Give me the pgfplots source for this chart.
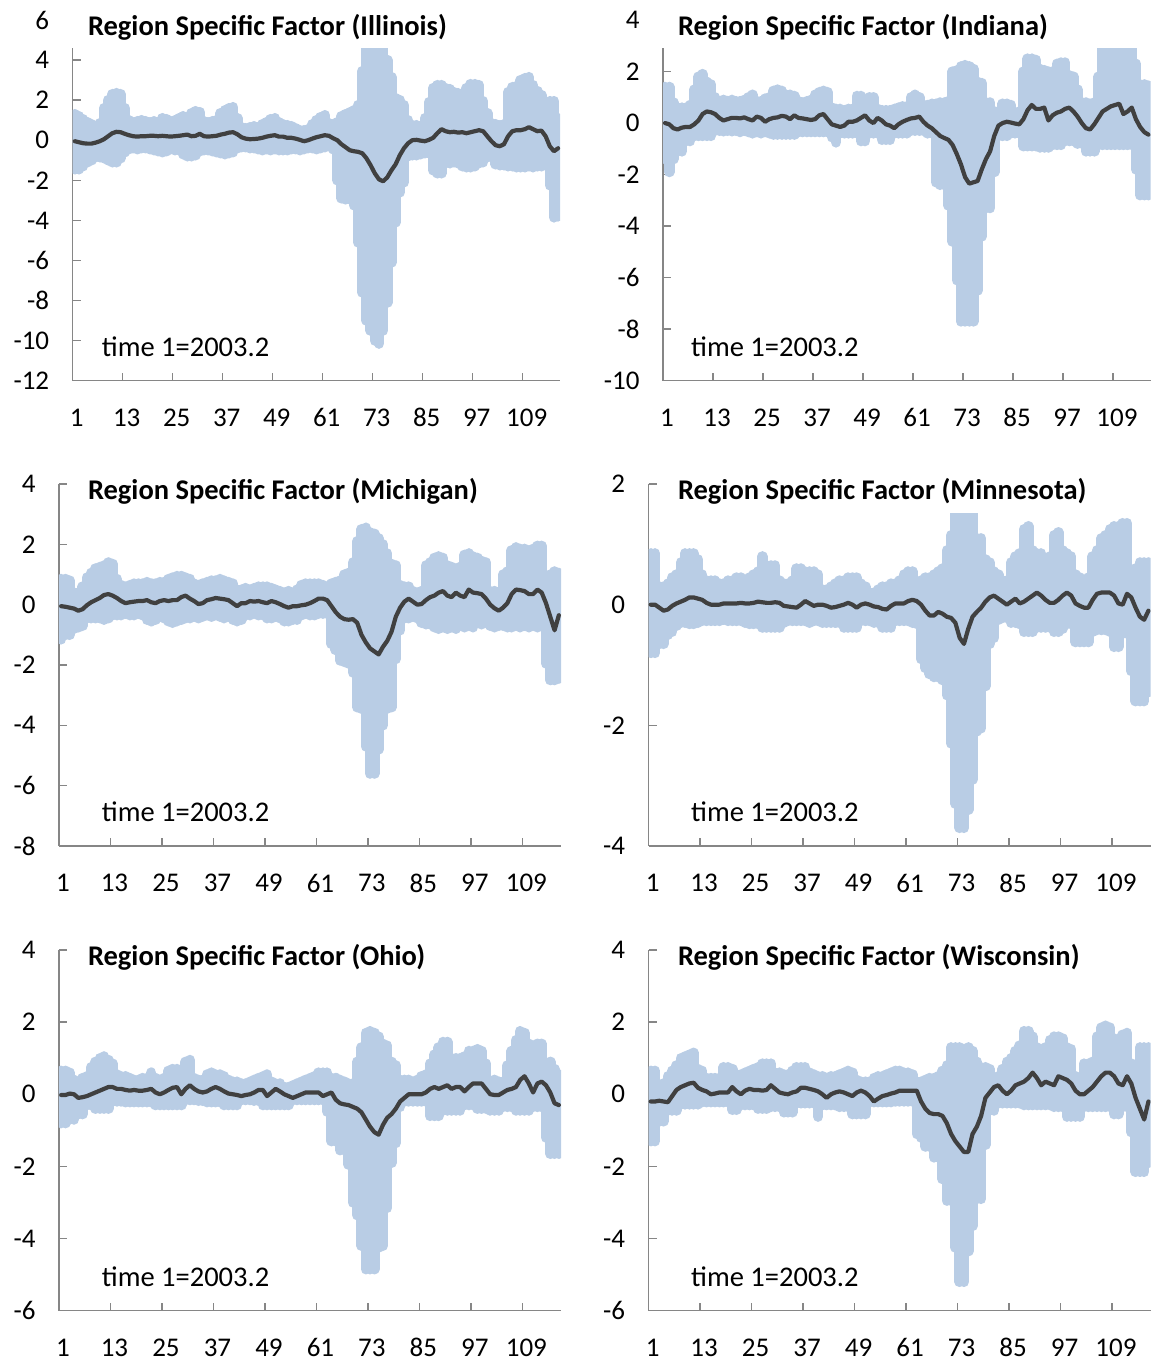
\documentclass[border=0pt]{standalone}
\usepackage{fontspec}
\setmainfont{Carlito}
\usepackage{pgfplots}
\usepackage{pgfplotstable}
\pgfplotsset{compat=1.18}

\definecolor{bandblue}{HTML}{B9CDE5}
\definecolor{medgray}{HTML}{404040}
\definecolor{axgray}{HTML}{868686}

\newcommand\lbl{\fontsize{27}{27}\selectfont}
\newcommand\txt{\fontsize{28.5}{28.5}\selectfont}

\pgfplotsset{
  rsf/.style={
    scale only axis,
    axis lines*=left,
    xmin=0.5, xmax=117.5,
    xtick={0.5,12.5,...,108.5},
    xticklabels={1,13,25,37,49,61,73,85,97,109},
    tick align=inside,
    major tick length=8pt,
    axis line style={draw=axgray, line width=1.5pt},
    tick style={draw=axgray, line width=1.5pt},
    tick label style={font=\lbl},
    /pgf/number format/assume math mode=true,
    xticklabel style={anchor=center, yshift=-37pt, xshift=4pt},
    yticklabel style={xshift=-20pt},
    clip marker paths=true,
  },
  % each time point: a thick round-capped bar from lo to hi
  band/.style={forget plot, mark=none, -,
    draw=bandblue, line width=10.5pt, line cap=round,
    quiver={u=0, v={\thisrow{hi}-\thisrow{lo}}}},
  med/.style={draw=medgray, line width=4.2pt, line join=round, line cap=round, mark=none},
}

% t, lower band, median, upper band
\pgfplotstableread[row sep=\\]{
t lo mid hi\\
1 -1.45 -0.05 1.3\\ 2 -1.45 -0.1 1.2\\ 3 -1.3 -0.15 1.05\\ 4 -1.1 -0.17 0.9\\ 5 -1.0 -0.17 0.8\\
6 -0.85 -0.12 0.7\\ 7 -0.85 -0.05 0.85\\ 8 -0.9 0.05 1.6\\ 9 -1.0 0.2 2.0\\ 10 -1.1 0.35 2.3\\
11 -1.1 0.42 2.35\\ 12 -0.9 0.4 2.3\\ 13 -0.6 0.32 1.6\\ 14 -0.45 0.25 1.0\\ 15 -0.4 0.2 0.9\\
16 -0.45 0.18 0.95\\ 17 -0.4 0.2 1.0\\ 18 -0.4 0.2 0.95\\ 19 -0.45 0.22 0.9\\ 20 -0.5 0.22 0.95\\
21 -0.55 0.2 0.9\\ 22 -0.6 0.22 1.1\\ 23 -0.55 0.2 1.05\\ 24 -0.45 0.18 0.95\\ 25 -0.5 0.2 1.0\\
26 -0.5 0.22 1.1\\ 27 -0.7 0.25 1.2\\ 28 -0.8 0.28 1.15\\ 29 -0.8 0.2 1.35\\ 30 -0.75 0.22 1.45\\
31 -0.55 0.32 1.4\\ 32 -0.5 0.2 0.95\\ 33 -0.5 0.18 0.9\\ 34 -0.55 0.2 0.95\\ 35 -0.6 0.22 1.0\\
36 -0.65 0.28 1.35\\ 37 -0.7 0.32 1.5\\ 38 -0.65 0.38 1.6\\ 39 -0.6 0.4 1.65\\ 40 -0.4 0.3 1.1\\
41 -0.35 0.15 0.65\\ 42 -0.35 0.08 0.6\\ 43 -0.4 0.05 0.65\\ 44 -0.4 0.06 0.7\\ 45 -0.45 0.08 0.65\\
46 -0.5 0.12 0.8\\ 47 -0.45 0.18 0.9\\ 48 -0.5 0.22 1.05\\ 49 -0.45 0.25 1.1\\ 50 -0.5 0.18 0.9\\
51 -0.5 0.18 0.8\\ 52 -0.5 0.12 0.75\\ 53 -0.45 0.12 0.7\\ 54 -0.45 0.08 0.6\\ 55 -0.5 0.02 0.5\\
56 -0.45 -0.05 0.5\\ 57 -0.4 0.0 0.55\\ 58 -0.4 0.08 0.8\\ 59 -0.45 0.15 1.0\\ 60 -0.4 0.2 1.15\\
61 -0.35 0.25 1.25\\ 62 -0.3 0.22 0.85\\ 63 -0.45 0.1 0.8\\ 64 -2.0 0.0 0.9\\ 65 -2.9 -0.2 1.2\\
66 -2.95 -0.35 1.3\\ 67 -2.95 -0.5 1.4\\ 68 -3.25 -0.55 1.5\\ 69 -5.1 -0.58 1.75\\ 70 -7.6 -0.65 3.45\\
71 -9.0 -0.9 5.0\\ 72 -9.5 -1.25 5.0\\ 73 -10.0 -1.65 5.0\\ 74 -10.15 -1.95 5.0\\ 75 -9.5 -2.05 5.0\\
76 -8.1 -1.85 4.0\\ 77 -6.1 -1.5 3.15\\ 78 -4.1 -1.2 2.1\\ 79 -2.6 -0.75 2.0\\ 80 -2.1 -0.4 1.75\\
81 -0.8 -0.15 1.0\\ 82 -0.75 0.0 0.75\\ 83 -0.75 0.02 0.75\\ 84 -0.7 -0.02 0.7\\ 85 -0.65 -0.05 1.1\\
86 -0.65 0.02 1.9\\ 87 -1.5 0.12 2.6\\ 88 -1.65 0.35 2.75\\ 89 -1.65 0.55 2.75\\ 90 -1.15 0.45 2.6\\
91 -1.15 0.4 2.55\\ 92 -1.1 0.42 2.4\\ 93 -1.15 0.38 2.35\\ 94 -1.3 0.4 2.15\\ 95 -1.35 0.35 2.6\\
96 -1.35 0.4 2.8\\ 97 -1.3 0.45 2.8\\ 98 -1.15 0.5 2.75\\ 99 -1.1 0.45 1.95\\ 100 -0.85 0.2 1.35\\
101 -0.8 -0.05 0.85\\ 102 -1.2 -0.25 0.8\\ 103 -1.25 -0.3 0.75\\ 104 -1.25 -0.2 0.8\\ 105 -1.3 0.2 2.4\\
106 -1.3 0.45 2.65\\ 107 -1.35 0.5 2.7\\ 108 -1.35 0.5 3.0\\ 109 -1.35 0.55 3.1\\ 110 -1.3 0.65 3.15\\
111 -1.35 0.55 2.75\\ 112 -1.3 0.45 2.45\\ 113 -1.3 0.48 2.25\\ 114 -1.15 0.2 1.55\\ 115 -2.25 -0.3 1.95\\
116 -3.85 -0.55 1.95\\ 117 -3.8 -0.4 1.1\\
}\tabIL

\pgfplotstableread[row sep=\\]{
t lo mid hi\\
1 -1.4 0.0 1.4\\ 2 -1.9 -0.05 1.4\\ 3 -1.4 -0.2 0.8\\ 4 -1.1 -0.25 0.6\\ 5 -1.1 -0.18 0.6\\
6 -0.7 -0.15 0.6\\ 7 -0.7 -0.15 0.7\\ 8 -0.5 -0.05 1.3\\ 9 -0.5 0.1 1.8\\ 10 -0.5 0.35 1.9\\
11 -0.5 0.45 1.6\\ 12 -0.5 0.42 1.5\\ 13 -0.3 0.35 1.0\\ 14 -0.3 0.2 0.85\\ 15 -0.32 0.1 0.9\\
16 -0.3 0.15 0.85\\ 17 -0.32 0.2 0.9\\ 18 -0.3 0.2 0.85\\ 19 -0.35 0.18 0.85\\ 20 -0.3 0.22 0.9\\
21 -0.35 0.15 1.0\\ 22 -0.4 0.1 1.1\\ 23 -0.35 0.25 0.85\\ 24 -0.4 0.2 0.85\\ 25 -0.35 0.05 0.95\\
26 -0.4 0.15 1.0\\ 27 -0.45 0.2 1.25\\ 28 -0.45 0.22 1.3\\ 29 -0.45 0.28 1.25\\ 30 -0.45 0.25 1.1\\
31 -0.45 0.15 1.1\\ 32 -0.45 0.3 1.05\\ 33 -0.35 0.2 0.85\\ 34 -0.35 0.18 0.8\\ 35 -0.35 0.15 0.85\\
36 -0.35 0.12 0.9\\ 37 -0.35 0.15 1.1\\ 38 -0.35 0.3 1.2\\ 39 -0.35 0.35 1.25\\ 40 -0.35 0.15 1.2\\
41 -0.55 -0.05 0.6\\ 42 -0.75 -0.1 0.55\\ 43 -0.4 -0.15 0.55\\ 44 -0.4 -0.1 0.5\\ 45 -0.4 0.05 0.55\\
46 -0.4 0.05 0.55\\ 47 -0.4 0.1 1.05\\ 48 -0.7 0.2 1.05\\ 49 -0.7 0.3 0.8\\ 50 -0.4 0.1 1.0\\
51 -0.4 0.0 1.0\\ 52 -0.4 0.2 0.55\\ 53 -0.65 0.1 0.5\\ 54 -0.65 -0.05 0.5\\ 55 -0.65 -0.1 0.5\\
56 -0.4 -0.2 0.55\\ 57 -0.4 -0.05 0.6\\ 58 -0.4 0.05 0.65\\ 59 -0.4 0.12 0.65\\ 60 -0.3 0.18 1.0\\
61 -0.3 0.2 1.1\\ 62 -0.3 0.25 1.0\\ 63 -0.3 0.05 0.7\\ 64 -0.4 -0.1 0.7\\ 65 -0.4 -0.2 0.75\\
66 -2.3 -0.35 0.75\\ 67 -2.4 -0.5 0.8\\ 68 -2.4 -0.58 0.8\\ 69 -3.2 -0.65 0.85\\ 70 -4.6 -0.85 2.0\\
71 -6.1 -1.2 2.05\\ 72 -7.7 -1.6 2.2\\ 73 -7.7 -2.1 2.25\\ 74 -7.7 -2.35 2.2\\ 75 -7.7 -2.3 2.1\\
76 -6.5 -2.25 1.6\\ 77 -4.4 -1.8 1.55\\ 78 -3.3 -1.4 0.8\\ 79 -3.3 -1.1 0.8\\ 80 -1.9 -0.5 0.45\\
81 -0.5 -0.1 0.45\\ 82 -0.5 0.0 0.75\\ 83 -0.5 0.05 0.75\\ 84 -0.4 0.02 0.7\\ 85 -0.4 -0.02 0.4\\
86 -0.4 -0.05 0.45\\ 87 -0.9 0.15 2.0\\ 88 -0.9 0.5 2.5\\ 89 -0.9 0.7 2.5\\ 90 -0.9 0.55 2.45\\
91 -0.95 0.55 2.1\\ 92 -0.95 0.6 2.05\\ 93 -0.95 0.1 2.0\\ 94 -0.85 0.3 2.0\\ 95 -0.85 0.4 2.3\\
96 -0.85 0.45 2.35\\ 97 -0.7 0.55 2.35\\ 98 -0.7 0.6 1.85\\ 99 -0.7 0.45 1.8\\ 100 -0.8 0.25 1.3\\
101 -0.8 0.0 0.8\\ 102 -1.1 -0.2 0.8\\ 103 -1.1 -0.25 0.75\\ 104 -1.1 -0.05 0.8\\ 105 -0.85 0.2 1.8\\
106 -0.85 0.45 3.0\\ 107 -0.85 0.55 3.1\\ 108 -0.85 0.65 3.2\\ 109 -0.85 0.7 3.2\\ 110 -0.85 0.75 3.2\\
111 -0.85 0.35 3.2\\ 112 -0.85 0.45 3.1\\ 113 -0.85 0.6 3.0\\ 114 -1.8 0.15 2.3\\ 115 -2.8 -0.15 1.5\\
116 -2.8 -0.35 1.5\\ 117 -2.8 -0.45 1.45\\
}\tabIN

\pgfplotstableread[row sep=\\]{
t lo mid hi\\
1 -1.15 -0.05 0.85\\ 2 -1.0 -0.07 0.85\\ 3 -1.0 -0.1 0.8\\ 4 -0.8 -0.13 0.4\\ 5 -0.75 -0.2 0.4\\
6 -0.7 -0.15 0.6\\ 7 -0.45 -0.02 0.9\\ 8 -0.45 0.08 1.05\\ 9 -0.45 0.15 1.2\\ 10 -0.45 0.22 1.25\\
11 -0.5 0.32 1.3\\ 12 -0.45 0.35 1.4\\ 13 -0.35 0.3 1.35\\ 14 -0.35 0.22 0.85\\ 15 -0.35 0.12 0.65\\
16 -0.3 0.05 0.6\\ 17 -0.35 0.08 0.65\\ 18 -0.35 0.1 0.7\\ 19 -0.3 0.12 0.7\\ 20 -0.35 0.12 0.7\\
21 -0.5 0.15 0.75\\ 22 -0.55 0.08 0.7\\ 23 -0.5 0.05 0.7\\ 24 -0.4 0.12 0.75\\ 25 -0.45 0.15 0.75\\
26 -0.55 0.12 0.85\\ 27 -0.6 0.15 0.9\\ 28 -0.55 0.15 0.95\\ 29 -0.5 0.25 0.95\\ 30 -0.45 0.3 0.9\\
31 -0.45 0.2 0.85\\ 32 -0.4 0.12 0.7\\ 33 -0.45 0.02 0.65\\ 34 -0.4 0.05 0.7\\ 35 -0.35 0.15 0.75\\
36 -0.4 0.18 0.8\\ 37 -0.35 0.22 0.8\\ 38 -0.4 0.2 0.85\\ 39 -0.45 0.18 0.8\\ 40 -0.4 0.15 0.75\\
41 -0.5 0.05 0.7\\ 42 -0.55 -0.05 0.5\\ 43 -0.5 0.05 0.5\\ 44 -0.35 0.05 0.55\\ 45 -0.35 0.12 0.5\\
46 -0.3 0.1 0.55\\ 47 -0.35 0.12 0.6\\ 48 -0.35 0.08 0.6\\ 49 -0.45 0.05 0.6\\ 50 -0.45 0.12 0.55\\
51 -0.4 0.08 0.5\\ 52 -0.45 0.02 0.45\\ 53 -0.55 -0.05 0.4\\ 54 -0.55 -0.1 0.45\\ 55 -0.5 -0.05 0.4\\
56 -0.5 -0.05 0.5\\ 57 -0.35 -0.02 0.65\\ 58 -0.3 0.0 0.7\\ 59 -0.35 0.05 0.7\\ 60 -0.35 0.12 0.7\\
61 -0.3 0.2 0.7\\ 62 -0.3 0.2 0.65\\ 63 -0.3 0.15 0.6\\ 64 -1.3 -0.05 0.7\\ 65 -1.5 -0.25 0.75\\
66 -1.85 -0.4 0.8\\ 67 -1.9 -0.48 1.0\\ 68 -1.95 -0.5 1.05\\ 69 -2.25 -0.48 1.4\\ 70 -3.4 -0.6 2.1\\
71 -3.45 -1.0 2.5\\ 72 -4.7 -1.25 2.55\\ 73 -5.6 -1.45 2.4\\ 74 -5.6 -1.55 2.35\\ 75 -4.8 -1.65 2.2\\
76 -4.0 -1.4 2.0\\ 77 -3.45 -1.2 1.7\\ 78 -3.4 -0.9 1.35\\ 79 -1.8 -0.4 1.3\\ 80 -0.85 -0.1 0.65\\
81 -0.45 0.1 0.6\\ 82 -0.45 0.2 0.6\\ 83 -0.4 0.1 0.45\\ 84 -0.45 0.0 0.4\\ 85 -0.6 0.02 0.45\\
86 -0.65 0.15 1.3\\ 87 -0.65 0.25 1.4\\ 88 -0.75 0.3 1.55\\ 89 -0.8 0.4 1.6\\ 90 -0.75 0.45 1.55\\
91 -0.8 0.3 1.3\\ 92 -0.75 0.25 1.25\\ 93 -0.8 0.4 1.2\\ 94 -0.7 0.3 1.25\\ 95 -0.75 0.25 1.65\\
96 -0.7 0.5 1.7\\ 97 -0.75 0.4 1.6\\ 98 -0.6 0.38 1.55\\ 99 -0.65 0.35 1.45\\ 100 -0.6 0.2 1.4\\
101 -0.7 0.0 0.45\\ 102 -0.75 -0.12 0.45\\ 103 -0.7 -0.2 0.4\\ 104 -0.7 -0.1 1.0\\ 105 -0.75 0.05 1.1\\
106 -0.75 0.35 1.8\\ 107 -0.7 0.5 1.9\\ 108 -0.75 0.48 1.85\\ 109 -0.7 0.45 1.85\\ 110 -0.75 0.35 1.8\\
111 -0.7 0.35 1.85\\ 112 -0.75 0.5 1.95\\ 113 -0.65 0.4 1.95\\ 114 -1.95 0.05 0.85\\ 115 -2.5 -0.4 1.0\\
116 -2.5 -0.85 1.1\\ 117 -2.45 -0.35 1.05\\
}\tabMI

\pgfplotstableread[row sep=\\]{
t lo mid hi\\
1 -0.8 0.0 0.85\\ 2 -0.8 0.0 0.85\\ 3 -0.65 -0.05 0.3\\ 4 -0.65 -0.1 0.3\\ 5 -0.5 -0.08 0.35\\
6 -0.45 -0.02 0.45\\ 7 -0.35 0.02 0.5\\ 8 -0.3 0.05 0.7\\ 9 -0.3 0.08 0.85\\ 10 -0.32 0.12 0.85\\
11 -0.32 0.12 0.85\\ 12 -0.3 0.1 0.75\\ 13 -0.27 0.08 0.5\\ 14 -0.27 0.03 0.4\\ 15 -0.27 0.0 0.4\\
16 -0.27 0.0 0.4\\ 17 -0.27 0.0 0.35\\ 18 -0.25 0.02 0.35\\ 19 -0.27 0.02 0.4\\ 20 -0.27 0.02 0.4\\
21 -0.27 0.02 0.45\\ 22 -0.27 0.03 0.45\\ 23 -0.3 0.02 0.4\\ 24 -0.32 0.02 0.45\\ 25 -0.32 0.03 0.5\\
26 -0.32 0.05 0.55\\ 27 -0.38 0.04 0.8\\ 28 -0.38 0.03 0.65\\ 29 -0.38 0.03 0.65\\ 30 -0.38 0.04 0.65\\
31 -0.38 0.03 0.4\\ 32 -0.3 -0.02 0.35\\ 33 -0.27 -0.03 0.35\\ 34 -0.27 -0.04 0.4\\ 35 -0.27 -0.05 0.6\\
36 -0.27 0.0 0.6\\ 37 -0.27 0.06 0.55\\ 38 -0.3 0.02 0.55\\ 39 -0.27 -0.02 0.55\\ 40 -0.27 0.0 0.5\\
41 -0.3 0.0 0.25\\ 42 -0.3 -0.02 0.25\\ 43 -0.3 -0.05 0.3\\ 44 -0.3 -0.04 0.35\\ 45 -0.3 -0.02 0.4\\
46 -0.38 0.0 0.4\\ 47 -0.38 0.03 0.45\\ 48 -0.38 0.0 0.45\\ 49 -0.38 -0.05 0.45\\ 50 -0.27 0.0 0.35\\
51 -0.27 0.02 0.3\\ 52 -0.27 0.0 0.2\\ 53 -0.3 -0.03 0.2\\ 54 -0.3 -0.04 0.25\\ 55 -0.38 -0.07 0.3\\
56 -0.38 -0.08 0.3\\ 57 -0.38 -0.02 0.35\\ 58 -0.27 0.02 0.35\\ 59 -0.27 0.02 0.4\\ 60 -0.27 0.02 0.5\\
61 -0.27 0.06 0.55\\ 62 -0.3 0.08 0.55\\ 63 -0.32 0.06 0.35\\ 64 -0.9 0.0 0.4\\ 65 -1.05 -0.1 0.45\\
66 -1.15 -0.18 0.45\\ 67 -1.2 -0.18 0.5\\ 68 -1.2 -0.12 0.55\\ 69 -1.25 -0.15 0.6\\ 70 -1.5 -0.2 0.9\\
71 -2.3 -0.22 1.15\\ 72 -3.3 -0.3 1.65\\ 73 -3.7 -0.55 1.7\\ 74 -3.7 -0.65 1.7\\ 75 -3.4 -0.4 1.7\\
76 -2.9 -0.2 1.6\\ 77 -2.1 -0.12 1.1\\ 78 -2.05 -0.05 1.1\\ 79 -1.35 0.05 0.75\\ 80 -0.65 0.12 0.7\\
81 -0.55 0.15 0.55\\ 82 -0.25 0.1 0.5\\ 83 -0.22 0.05 0.4\\ 84 -0.22 0.0 0.4\\ 85 -0.3 0.05 0.7\\
86 -0.3 0.1 0.8\\ 87 -0.32 0.02 0.85\\ 88 -0.45 0.05 1.25\\ 89 -0.45 0.1 1.3\\ 90 -0.45 0.15 0.9\\
91 -0.38 0.2 0.85\\ 92 -0.38 0.15 0.85\\ 93 -0.38 0.08 0.75\\ 94 -0.38 0.03 0.8\\ 95 -0.45 0.03 1.15\\
96 -0.45 0.08 1.2\\ 97 -0.4 0.15 0.9\\ 98 -0.32 0.2 0.85\\ 99 -0.32 0.15 0.8\\ 100 -0.62 0.02 0.5\\
101 -0.62 -0.02 0.45\\ 102 -0.62 -0.05 0.4\\ 103 -0.62 -0.05 0.45\\ 104 -0.45 0.08 0.8\\ 105 -0.42 0.18 0.9\\
106 -0.42 0.2 1.1\\ 107 -0.42 0.2 1.15\\ 108 -0.45 0.2 1.25\\ 109 -0.7 0.15 1.3\\ 110 -0.7 0.02 1.3\\
111 -0.48 0.0 1.35\\ 112 -0.48 0.18 1.35\\ 113 -1.1 0.12 0.5\\ 114 -1.6 -0.05 0.6\\ 115 -1.6 -0.2 0.7\\
116 -1.6 -0.25 0.7\\ 117 -1.45 -0.1 0.7\\
}\tabMN

\pgfplotstableread[row sep=\\]{
t lo mid hi\\
1 -0.8 -0.02 0.65\\ 2 -0.8 -0.02 0.65\\ 3 -0.7 0.02 0.6\\ 4 -0.7 0.0 0.4\\ 5 -0.55 -0.1 0.35\\
6 -0.55 -0.08 0.45\\ 7 -0.3 -0.05 0.5\\ 8 -0.3 0.0 0.75\\ 9 -0.4 0.05 0.9\\ 10 -0.4 0.1 1.0\\
11 -0.4 0.15 1.05\\ 12 -0.4 0.2 0.95\\ 13 -0.2 0.2 0.85\\ 14 -0.2 0.15 0.55\\ 15 -0.2 0.15 0.5\\
16 -0.22 0.12 0.5\\ 17 -0.22 0.1 0.45\\ 18 -0.22 0.12 0.4\\ 19 -0.22 0.1 0.4\\ 20 -0.22 0.1 0.45\\
21 -0.22 0.12 0.45\\ 22 -0.22 0.15 0.6\\ 23 -0.3 0.05 0.45\\ 24 -0.3 0.0 0.4\\ 25 -0.3 0.05 0.45\\
26 -0.3 0.12 0.65\\ 27 -0.3 0.18 0.7\\ 28 -0.3 0.2 0.7\\ 29 -0.3 0.0 0.6\\ 30 -0.16 0.15 0.9\\
31 -0.16 0.25 0.95\\ 32 -0.16 0.15 0.45\\ 33 -0.18 0.08 0.4\\ 34 -0.18 0.05 0.4\\ 35 -0.22 0.08 0.55\\
36 -0.22 0.15 0.6\\ 37 -0.22 0.2 0.55\\ 38 -0.22 0.15 0.55\\ 39 -0.3 0.08 0.5\\ 40 -0.3 0.02 0.4\\
41 -0.3 0.0 0.35\\ 42 -0.3 -0.02 0.35\\ 43 -0.16 -0.05 0.3\\ 44 -0.16 -0.02 0.3\\ 45 -0.16 0.0 0.35\\
46 -0.18 0.05 0.4\\ 47 -0.18 0.12 0.45\\ 48 -0.3 0.12 0.5\\ 49 -0.3 -0.05 0.55\\ 50 -0.3 0.05 0.35\\
51 -0.3 0.15 0.3\\ 52 -0.3 0.08 0.3\\ 53 -0.3 0.0 0.2\\ 54 -0.3 -0.05 0.2\\ 55 -0.16 -0.1 0.25\\
56 -0.16 -0.05 0.3\\ 57 -0.16 0.0 0.35\\ 58 -0.16 0.05 0.4\\ 59 -0.16 0.05 0.45\\ 60 -0.16 0.05 0.5\\
61 -0.16 0.05 0.6\\ 62 -0.16 -0.05 0.6\\ 63 -0.48 0.0 0.6\\ 64 -1.3 0.05 0.45\\ 65 -1.3 -0.15 0.45\\
66 -1.55 -0.25 0.4\\ 67 -1.55 -0.28 0.35\\ 68 -1.95 -0.3 0.3\\ 69 -3.0 -0.35 0.3\\ 70 -3.35 -0.4 0.9\\
71 -4.2 -0.5 1.3\\ 72 -4.85 -0.7 1.7\\ 73 -4.85 -0.9 1.75\\ 74 -4.85 -1.05 1.7\\ 75 -4.25 -1.12 1.6\\
76 -4.2 -0.85 1.4\\ 77 -3.15 -0.65 1.35\\ 78 -1.9 -0.55 0.9\\ 79 -1.35 -0.4 0.8\\ 80 -0.35 -0.2 0.4\\
81 -0.2 -0.1 0.4\\ 82 -0.2 0.0 0.4\\ 83 -0.2 0.0 0.35\\ 84 -0.2 0.0 0.4\\ 85 -0.2 0.0 0.5\\
86 -0.2 0.05 0.55\\ 87 -0.6 0.15 0.85\\ 88 -0.6 0.2 1.1\\ 89 -0.6 0.15 1.3\\ 90 -0.45 0.2 1.45\\
91 -0.45 0.25 1.45\\ 92 -0.45 0.15 1.0\\ 93 -0.45 0.2 1.0\\ 94 -0.45 0.2 1.0\\ 95 -0.3 0.08 1.05\\
96 -0.3 0.2 1.2\\ 97 -0.3 0.3 1.2\\ 98 -0.4 0.3 1.25\\ 99 -0.4 0.3 1.2\\ 100 -0.4 0.15 0.85\\
101 -0.45 0.0 0.35\\ 102 -0.45 -0.02 0.4\\ 103 -0.45 -0.02 0.35\\ 104 -0.35 0.05 0.35\\ 105 -0.35 0.12 0.8\\
106 -0.35 0.15 1.2\\ 107 -0.45 0.2 1.5\\ 108 -0.45 0.4 1.75\\ 109 -0.45 0.5 1.7\\ 110 -0.45 0.3 1.4\\
111 -0.35 0.05 1.35\\ 112 -0.35 0.3 1.4\\ 113 -0.35 0.35 1.4\\ 114 -1.2 0.25 0.85\\ 115 -1.65 0.05 0.9\\
116 -1.65 -0.25 0.7\\ 117 -1.65 -0.3 0.55\\
}\tabOH

\pgfplotstableread[row sep=\\]{
t lo mid hi\\
1 -1.3 -0.2 0.65\\ 2 -1.3 -0.2 0.65\\ 3 -0.75 -0.18 0.25\\ 4 -0.75 -0.2 0.3\\ 5 -0.45 -0.22 0.5\\
6 -0.45 -0.05 0.65\\ 7 -0.45 0.12 0.8\\ 8 -0.28 0.2 1.0\\ 9 -0.28 0.25 1.05\\ 10 -0.28 0.3 1.1\\
11 -0.28 0.32 1.15\\ 12 -0.28 0.18 0.7\\ 13 -0.22 0.12 0.65\\ 14 -0.22 0.08 0.45\\ 15 -0.22 0.0 0.45\\
16 -0.22 0.02 0.45\\ 17 -0.22 0.05 0.45\\ 18 -0.22 0.05 0.75\\ 19 -0.22 0.05 0.75\\ 20 -0.43 0.2 0.7\\
21 -0.43 0.08 0.55\\ 22 -0.3 0.0 0.55\\ 23 -0.3 0.1 0.6\\ 24 -0.3 0.15 0.65\\ 25 -0.3 0.12 0.7\\
26 -0.4 0.12 0.75\\ 27 -0.4 0.1 0.85\\ 28 -0.4 0.12 0.85\\ 29 -0.35 0.25 0.85\\ 30 -0.35 0.15 0.6\\
31 -0.35 0.05 0.6\\ 32 -0.5 0.02 0.55\\ 33 -0.5 0.0 0.55\\ 34 -0.5 0.05 0.65\\ 35 -0.25 0.08 0.75\\
36 -0.25 0.18 0.75\\ 37 -0.25 0.18 0.75\\ 38 -0.25 0.15 0.6\\ 39 -0.25 0.12 0.55\\ 40 -0.62 0.08 0.5\\
41 -0.3 0.0 0.5\\ 42 -0.3 -0.1 0.45\\ 43 -0.3 0.0 0.5\\ 44 -0.3 0.05 0.5\\ 45 -0.35 0.08 0.55\\
46 -0.35 0.05 0.6\\ 47 -0.35 0.0 0.65\\ 48 -0.55 -0.05 0.6\\ 49 -0.55 0.05 0.4\\ 50 -0.55 0.1 0.35\\
51 -0.55 0.05 0.35\\ 52 -0.22 -0.05 0.35\\ 53 -0.22 -0.2 0.45\\ 54 -0.22 -0.12 0.5\\ 55 -0.22 -0.05 0.5\\
56 -0.22 -0.02 0.55\\ 57 -0.22 0.02 0.6\\ 58 -0.2 0.05 0.65\\ 59 -0.2 0.1 0.65\\ 60 -0.2 0.1 0.6\\
61 -0.2 0.1 0.6\\ 62 -0.2 0.1 0.55\\ 63 -1.1 0.1 0.35\\ 64 -1.2 -0.2 0.35\\ 65 -1.45 -0.4 0.4\\
66 -1.45 -0.52 0.45\\ 67 -1.75 -0.55 0.45\\ 68 -1.75 -0.55 0.5\\ 69 -2.35 -0.6 0.65\\ 70 -2.95 -0.8 0.8\\
71 -2.95 -1.1 1.3\\ 72 -4.25 -1.3 1.3\\ 73 -5.2 -1.45 1.3\\ 74 -5.2 -1.6 1.25\\ 75 -4.35 -1.6 1.3\\
76 -3.65 -1.1 1.2\\ 77 -2.9 -0.9 0.9\\ 78 -2.9 -0.6 0.75\\ 79 -1.4 -0.1 0.75\\ 80 -0.45 0.05 0.7\\
81 -0.45 0.2 0.45\\ 82 -0.25 0.25 0.5\\ 83 -0.25 0.1 0.7\\ 84 -0.25 0.0 0.9\\ 85 -0.25 0.1 1.0\\
86 -0.25 0.25 1.2\\ 87 -0.25 0.3 1.35\\ 88 -0.3 0.35 1.75\\ 89 -0.3 0.45 1.75\\ 90 -0.3 0.6 1.6\\
91 -0.3 0.45 1.3\\ 92 -0.3 0.25 1.25\\ 93 -0.3 0.35 1.3\\ 94 -0.3 0.3 1.5\\ 95 -0.35 0.25 1.6\\
96 -0.35 0.5 1.6\\ 97 -0.35 0.45 1.55\\ 98 -0.62 0.4 1.3\\ 99 -0.62 0.3 1.25\\ 100 -0.62 0.1 0.5\\
101 -0.62 0.0 0.45\\ 102 -0.35 0.0 0.85\\ 103 -0.35 0.1 0.85\\ 104 -0.35 0.2 0.9\\ 105 -0.35 0.35 1.6\\
106 -0.35 0.5 1.85\\ 107 -0.35 0.6 1.9\\ 108 -0.35 0.6 1.85\\ 109 -0.55 0.5 1.55\\ 110 -0.55 0.3 1.5\\
111 -0.35 0.25 1.65\\ 112 -0.35 0.5 1.7\\ 113 -1.05 0.3 0.85\\ 114 -2.15 -0.1 0.5\\ 115 -2.15 -0.4 1.3\\
116 -2.15 -0.7 1.3\\ 117 -1.9 -0.2 1.3\\
}\tabWI

\begin{document}
\begin{tikzpicture}
\useasboundingbox (0pt,0pt) rectangle (1151pt,1361pt);

% Illinois
\begin{axis}[rsf, at={(72.7pt,980.3pt)}, width=487.5pt, height=360.7pt,
  ymin=-12, ymax=6, ytick={-12,-10,...,6}]
\addplot[band] table[x=t, y=lo] {\tabIL};
\addplot[med] table[x=t, y=mid] {\tabIL};
\end{axis}

% Indiana
\begin{axis}[rsf, at={(663pt,980.3pt)}, width=487.5pt, height=360.7pt,
  ymin=-10, ymax=4, ytick={-10,-8,...,4}]
\addplot[band] table[x=t, y=lo] {\tabIN};
\addplot[med] table[x=t, y=mid] {\tabIN};
\end{axis}

% Michigan
\begin{axis}[rsf, at={(59pt,515pt)}, width=502pt, height=362pt,
  ymin=-8, ymax=4, ytick={-8,-6,...,4}]
\addplot[band] table[x=t, y=lo] {\tabMI};
\addplot[med] table[x=t, y=mid] {\tabMI};
\end{axis}

% Minnesota
\begin{axis}[rsf, at={(648.6pt,515pt)}, width=502pt, height=362pt,
  ymin=-4, ymax=2, ytick={-4,-2,0,2}]
\addplot[band] table[x=t, y=lo] {\tabMN};
\addplot[med] table[x=t, y=mid] {\tabMN};
\end{axis}

% Ohio
\begin{axis}[rsf, at={(59pt,50.3pt)}, width=502pt, height=360.7pt,
  ymin=-6, ymax=4, ytick={-6,-4,...,4}]
\addplot[band] table[x=t, y=lo] {\tabOH};
\addplot[med] table[x=t, y=mid] {\tabOH};
\end{axis}

% Wisconsin
\begin{axis}[rsf, at={(648.6pt,50.3pt)}, width=502pt, height=360.7pt,
  ymin=-6, ymax=4, ytick={-6,-4,...,4}]
\addplot[band] table[x=t, y=lo] {\tabWI};
\addplot[med] table[x=t, y=mid] {\tabWI};
\end{axis}

% title boxes (white, as in the original they hide the top of the plot area)
\fill[white] (60pt,1313pt) rectangle (562pt,1357pt);
\fill[white] (650pt,1313pt) rectangle (1151pt,1357pt);
\fill[white] (75pt,848pt) rectangle (562pt,892pt);
\fill[white] (664pt,848pt) rectangle (1151pt,892pt);
\fill[white] (75pt,383pt) rectangle (562pt,427pt);
\fill[white] (664pt,383pt) rectangle (1151pt,427pt);

\begin{scope}[every node/.style={anchor=base west, inner sep=0pt, font=\txt\bfseries}]
\node at (87.8pt,1325.5pt) {Region Specific Factor (Illinois)};
\node at (677.8pt,1325.5pt) {Region Specific Factor (Indiana)};
\node at (87.8pt,861pt) {Region Specific Factor (Michigan)};
\node at (677.8pt,861pt) {Region Specific Factor (Minnesota)};
\node at (87.8pt,395pt) {Region Specific Factor (Ohio)};
\node at (677.8pt,395pt) {Region Specific Factor (Wisconsin)};
\end{scope}

\begin{scope}[every node/.style={anchor=base west, inner sep=0pt, font=\txt}]
\node at (101.7pt,1004.3pt) {time 1=2003.2};
\node at (691pt,1004.3pt) {time 1=2003.2};
\node at (101.7pt,539pt) {time 1=2003.2};
\node at (691pt,539pt) {time 1=2003.2};
\node at (101.7pt,74.3pt) {time 1=2003.2};
\node at (691pt,74.3pt) {time 1=2003.2};
\end{scope}
\end{tikzpicture}
\end{document}
